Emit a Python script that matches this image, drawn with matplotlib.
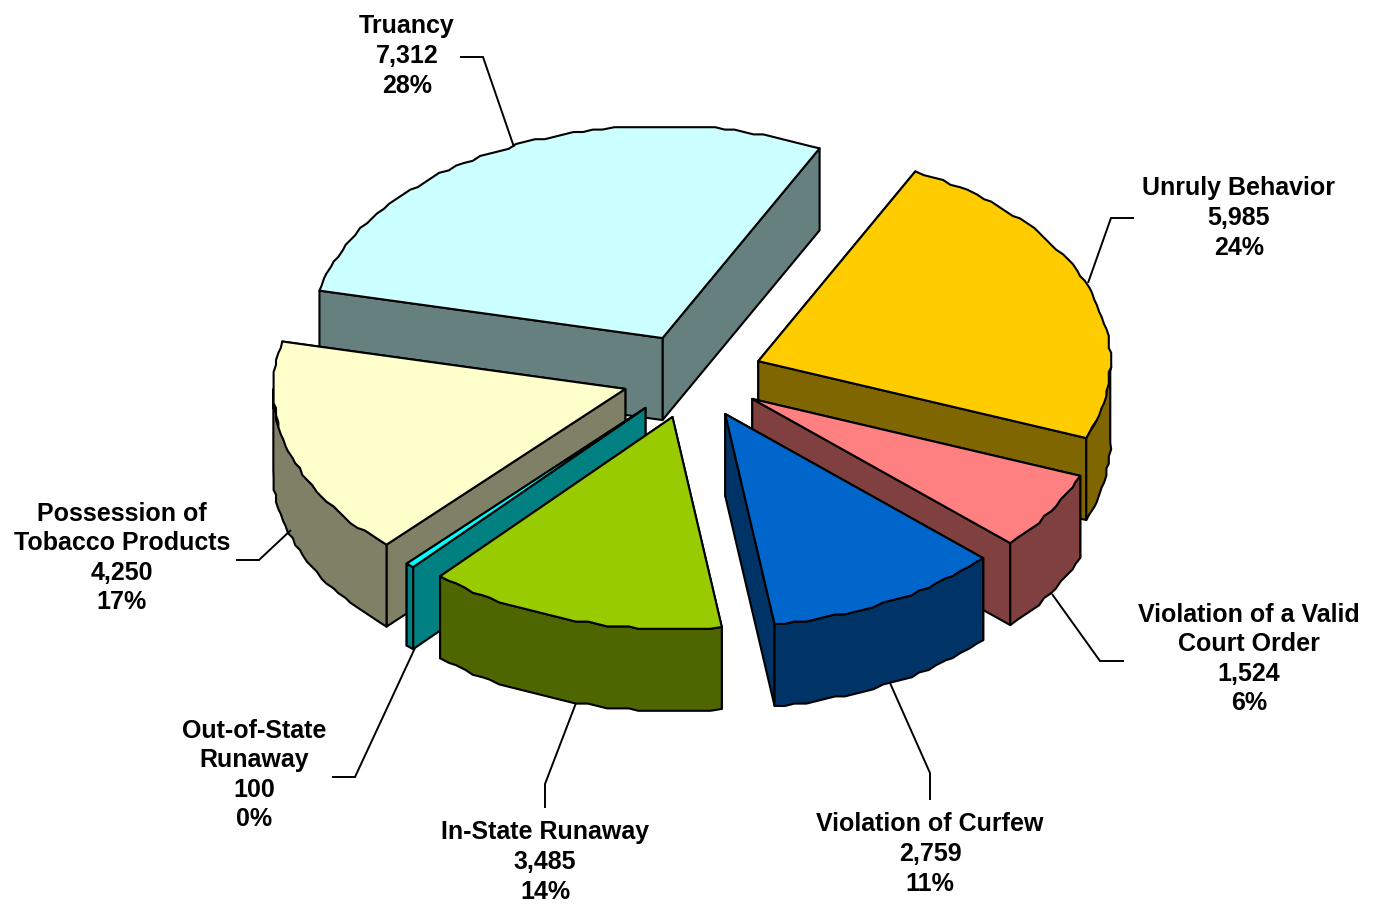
import matplotlib
matplotlib.use("Agg")
import matplotlib.pyplot as plt
from matplotlib.patches import Polygon
import numpy as np

# chart data, clockwise from the first slice
names = ["Unruly Behavior", "Violation of a Valid\nCourt Order", "Violation of Curfew",
         "In-State Runaway", "Out-of-State\nRunaway", "Possession of\nTobacco Products", "Truancy"]
values = [5985, 1524, 2759, 3485, 100, 4250, 7312]
percents = ["24%", "6%", "11%", "14%", "0%", "17%", "28%"]
top_colors = ["#FFCC00", "#FF8080", "#0066CC", "#99CC00", "#00FFFF", "#FFFFCC", "#CCFFFF"]
side_colors = ["#806600", "#804040", "#003366", "#4D6600", "#008080", "#808066", "#668080"]

# where the labels and their leader lines sit (pixels)
label_x = [1239, 1249, 930, 545, 254, 122, 407]
label_y = [218, 659, 854, 862, 775, 558, 56]
leaders = [
    [(1134, 218), (1111, 218), (1088, 283)],
    [(1124, 661), (1100, 661), (1052, 594)],
    [(930, 800), (930, 773), (890, 683)],
    [(545, 808), (545, 784), (576, 703)],
    [(332, 777), (355, 777), (415, 648)],
    [(236, 560), (259, 560), (291, 530)],
    [(460, 57), (483, 57), (514, 147)],
]

# pie geometry
cx, cy = 692.6, 376.4
rx, ry = 352, 212
depth = 82
explode = 0.2
start_angle = 26.5
jag = 2.4  # the original arcs are stair stepped


def ellipse(angle):
    a = np.radians(angle)
    return rx * np.sin(a), -ry * np.cos(a)


def arc(a1, a2, ox, oy):
    n = max(int((a2 - a1) / 1.6), 2)
    pts = []
    for i, a in enumerate(np.linspace(a1, a2, n)):
        dx, dy = ellipse(a)
        x, y = ox + dx, oy + dy
        if 0 < i < n - 1:
            x = round(x / jag) * jag
            y = round(y / jag) * jag
        pts.append((x, y))
    return pts


def shift(pts):
    return [(x, y + depth) for x, y in pts]


def face(ax, pts, color):
    ax.add_patch(Polygon(pts, closed=True, facecolor=color, edgecolor="black",
                         linewidth=1.5, joinstyle="round"))


fig = plt.figure(figsize=(13.9, 9.07), dpi=100)
ax = fig.add_axes([0, 0, 1, 1])
ax.set_xlim(0, 1390)
ax.set_ylim(907, 0)
ax.axis("off")

total = sum(values)
spans = [v / total * 360 for v in values]
starts = [start_angle + sum(spans[:i]) for i in range(len(values))]
mids = [s + w / 2 for s, w in zip(starts, spans)]

# back slices first
order = sorted(range(len(values)), key=lambda i: np.cos(np.radians(mids[i])), reverse=True)
for i in order:
    a1, a2 = starts[i], starts[i] + spans[i]
    ex, ey = ellipse(mids[i])
    ox, oy = cx + explode * ex, cy + explode * ey
    top = arc(a1, a2, ox, oy)
    apex = (ox, oy)

    # the two cut faces, the one further back first
    cuts = sorted([top[0], top[-1]], key=lambda p: p[1])
    for p in cuts:
        face(ax, [apex, p, (p[0], p[1] + depth), (apex[0], apex[1] + depth)], side_colors[i])

    # outer wall, only the part that faces the viewer
    w1, w2 = max(a1, 90), min(a2, 270)
    if w2 > w1:
        rim = arc(w1, w2, ox, oy)
        face(ax, rim + shift(rim)[::-1], side_colors[i])

    face(ax, [apex] + top, top_colors[i])

for pts in leaders:
    ax.plot([p[0] for p in pts], [p[1] for p in pts], color="black", lw=1.4,
            solid_joinstyle="miter", solid_capstyle="butt")

for name, v, pct, x, y in zip(names, values, percents, label_x, label_y):
    ax.text(x, y, f"{name}\n{v:,}\n{pct}", ha="center", va="center", multialignment="center",
            family="Liberation Sans", weight="bold", fontsize=18, linespacing=1.29, color="black")

fig.savefig("out.png", dpi=100)
